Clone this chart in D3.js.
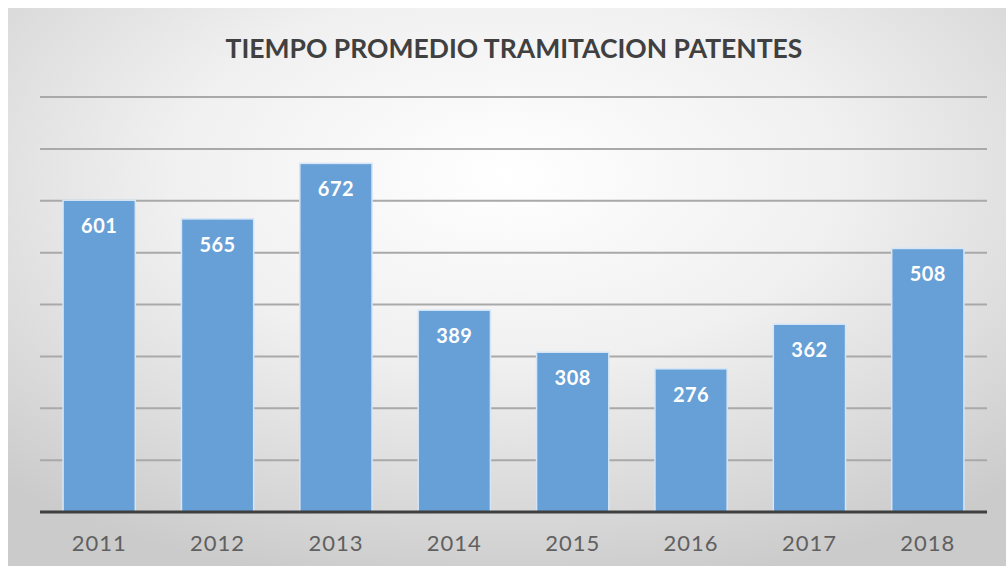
<!DOCTYPE html>
<html>
<head>
<meta charset="utf-8">
<script src="https://cdn.jsdelivr.net/npm/d3@7"></script>
<style>
  body { margin: 0; background: #fff; }
  svg { display: block; }
</style>
</head>
<body>
<svg class="chart"></svg>
<script>
var W = 1006, H = 566;
var m = [97, 19, 54, 40]; // top right bottom left of plot

// data
var years = ["2011", "2012", "2013", "2014", "2015", "2016", "2017", "2018"];
var dias = [601, 565, 672, 389, 308, 276, 362, 508];
var gridTicks = [100, 200, 300, 400, 500, 600, 700, 800];
var titulo = "TIEMPO PROMEDIO TRAMITACION PATENTES";

var svg = d3.select(".chart").attr("width", W).attr("height", H);

// background gradient
var defs = svg.append("defs");
var rg = defs.append("radialGradient").attr("id", "bg")
  .attr("cx", "50%").attr("cy", "30%").attr("r", "75%");
rg.append("stop").attr("offset", "0%").attr("stop-color", "#ffffff");
rg.append("stop").attr("offset", "45%").attr("stop-color", "#f0f0f0");
rg.append("stop").attr("offset", "100%").attr("stop-color", "#cbcbcb");

svg.append("rect").attr("x", 8).attr("y", 8)
  .attr("width", W - 8).attr("height", H - 8)
  .attr("fill", "url(#bg)");

var x = d3.scaleBand().domain(years).range([m[3], W - m[1]]).paddingInner(0.39).paddingOuter(0.195);
var y = d3.scaleLinear().domain([0, 800]).range([H - m[2], m[0]]);

// gridlines
svg.append("g").selectAll("line")
  .data(gridTicks)
  .enter().append("line")
  .attr("x1", m[3]).attr("x2", W - m[1])
  .attr("y1", function(d) { return y(d); })
  .attr("y2", function(d) { return y(d); })
  .attr("stroke", "#a9a9a9")
  .attr("stroke-width", 2);

// bars
svg.append("g").selectAll("rect")
  .data(dias)
  .enter().append("rect")
  .attr("x", function(d, i) { return x(years[i]); })
  .attr("y", function(d) { return y(d); })
  .attr("width", x.bandwidth())
  .attr("height", function(d) { return y(0) - y(d); })
  .attr("fill", "#67a0d6")
  .attr("stroke", "#d4e6f7")
  .attr("stroke-width", 1.5);

// value labels
svg.append("g").selectAll("text")
  .data(dias)
  .enter().append("text")
  .attr("x", function(d, i) { return x(years[i]) + x.bandwidth() / 2; })
  .attr("y", function(d) { return y(d) + 26; })
  .attr("dy", "0.35em")
  .attr("text-anchor", "middle")
  .attr("fill", "#ffffff")
  .style("font", "bold 20px Lato, 'Open Sans', sans-serif")
  .style("letter-spacing", "0.5px")
  .text(String);

// x axis
var xAxis = svg.append("g")
  .attr("transform", "translate(0," + y(0) + ")")
  .call(d3.axisBottom(x).tickSize(0).tickPadding(23));
xAxis.select(".domain").attr("stroke", "#3f3f3f").attr("stroke-width", 3)
  .attr("d", "M" + m[3] + ",0H" + (W - m[1]));
xAxis.selectAll("text")
  .attr("fill", "#606060")
  .style("font", "22px Lato, 'Open Sans', sans-serif")
  .style("letter-spacing", "1px");

// title
svg.append("text")
  .attr("x", 514).attr("y", 58)
  .attr("text-anchor", "middle")
  .attr("fill", "#404040")
  .style("font", "bold 26.5px Lato, 'Open Sans', sans-serif")
  .text(titulo);
</script>
</body>
</html>
